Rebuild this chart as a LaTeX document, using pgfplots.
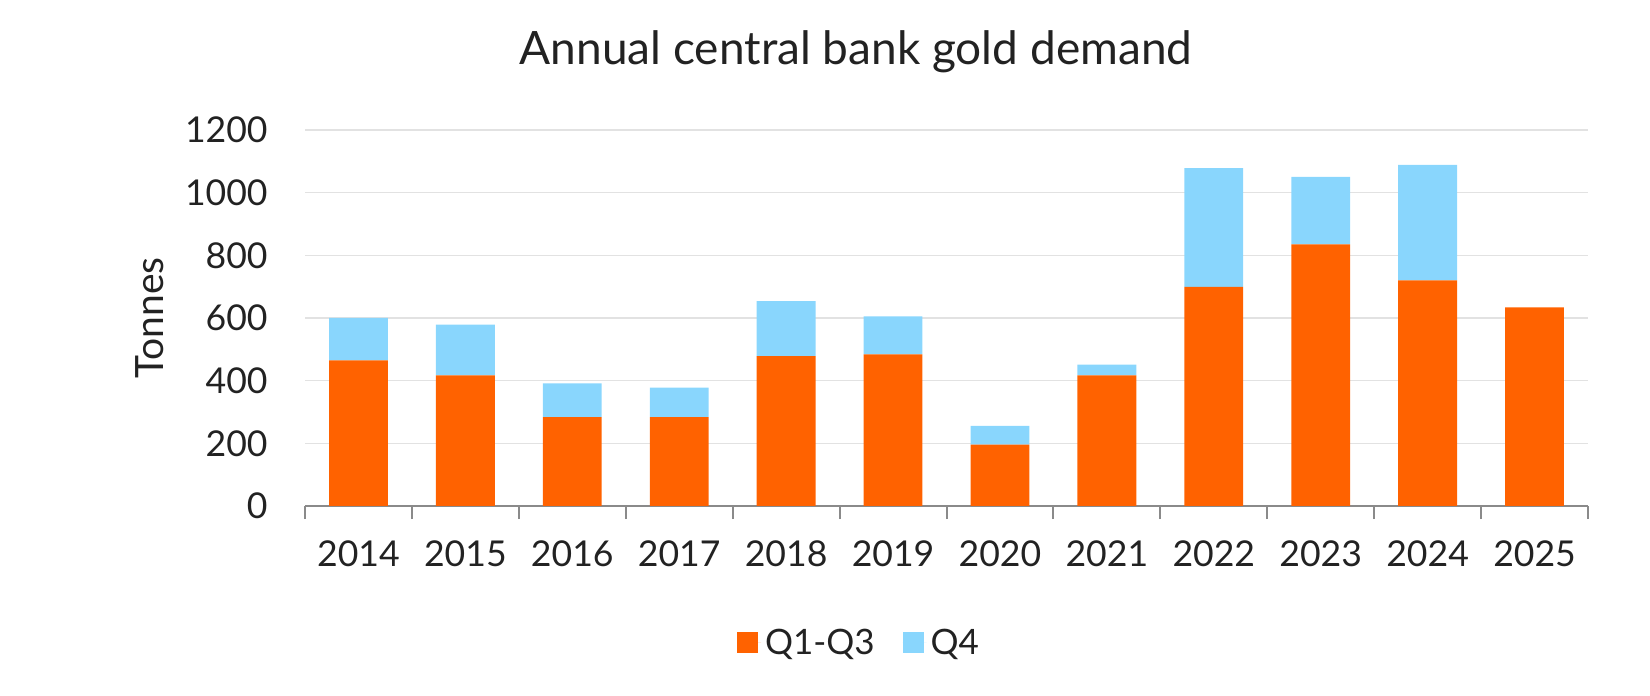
\documentclass[border=0pt]{standalone}
\usepackage{fontspec}
\setmainfont{Lato}
\usepackage{pgfplots}
\pgfplotsset{compat=1.18}
\definecolor{ingorange}{HTML}{FF6200}
\definecolor{ingblue}{HTML}{89D6FD}
\definecolor{gridgray}{HTML}{E2E2E2}
\definecolor{axisgray}{HTML}{8A8A8A}
\definecolor{textcol}{HTML}{222222}
\pgfplotstableread{
x q13 q4
0 465 135
1 417 162
2 284 107
3 284 94
4 478 176
5 484 121
6 196 60
7 417 34
8 699 379
9 835 215
10 720 369
11 634 0
}\datatable
\begin{document}
\begin{tikzpicture}
\useasboundingbox (0,0) rectangle (825pt,348pt);
\begin{axis}[
  at={(152.5pt,95pt)}, anchor=south west,
  scale only axis, width=641.5pt, height=188pt,
  ybar stacked, bar width=0.55,
  xmin=-0.5, xmax=11.5, ymin=0, ymax=1200,
  xtick={0,...,11},
  xticklabels={2014,2015,2016,2017,2018,2019,2020,2021,2022,2023,2024,2025},
  minor xtick={-0.5,0.5,...,11.5},
  major tick length=0pt,
  minor tick length=6.5pt,
  tick align=outside,
  minor tick style={axisgray, line width=1pt},
  ytick={0,200,...,1200},
  ytick style={draw=none},
  axis lines*=left,
  y axis line style={draw=none},
  x axis line style={axisgray, line width=1pt},
  ymajorgrids,
  grid style={gridgray, line width=0.8pt},
  /pgf/number format/assume math mode=true,
  /pgf/number format/1000 sep={},
  tick label style={font=\fontsize{17.8}{21}\selectfont, text=textcol},
  xticklabel style={inner sep=0pt, anchor=north, yshift=-17pt},
  yticklabel style={inner sep=0pt, anchor=east, xshift=-18.5pt},
  ylabel={Tonnes},
  ylabel style={at={(axis description cs:-0.1208,0.5)}, anchor=center, font=\fontsize{19.5}{23}\selectfont, text=textcol},
  title={Annual central bank gold demand},
  title style={at={(axis description cs:0.4295,1.142)}, anchor=base, font=\fontsize{23}{27}\selectfont, text=textcol},
  legend columns=2,
  legend style={at={(axis description cs:0.4326,-0.364)}, anchor=center, draw=none, fill=none,
    font=\fontsize{17.5}{21}\selectfont, text=textcol,
    /tikz/every even column/.append style={column sep=12pt}},
  legend image code/.code={\fill[#1] (0pt,-5.25pt) rectangle (10.5pt,5.25pt); \path (0pt,0pt) -- (12pt,0pt);},
]
\addplot[fill=ingorange, draw=none] table[x=x, y=q13] {\datatable};
\addplot[fill=ingblue, draw=none] table[x=x, y=q4] {\datatable};
\legend{Q1-Q3, Q4}
\end{axis}
\end{tikzpicture}
\end{document}
